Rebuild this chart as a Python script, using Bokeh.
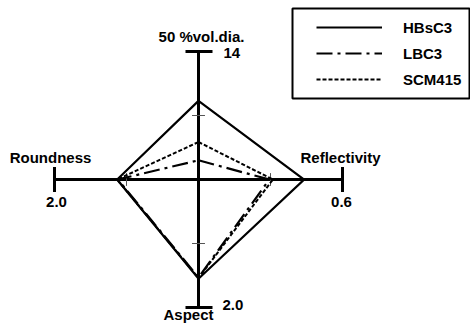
from bokeh.plotting import figure
from bokeh.models import Range1d
from bokeh.embed import file_html
from bokeh.resources import INLINE
from bokeh.core.properties import value

# ---- data ----
axis_names = ["50 %vol.dia.", "Reflectivity", "Aspect", "Roundness"]
axis_max = [14, 0.6, 2.0, 2.0]
axis_max_labels = ["14", "0.6", "2.0", "2.0"]
series_names = ["HBsC3", "LBC3", "SCM415"]
hbsc3 = [8.6, 0.44, 1.55, 1.13]
lbc3 = [2.1, 0.295, 1.53, 1.12]
scm415 = [4.1, 0.31, 1.54, 1.13]

# direction of each axis: top, right, bottom, left
dirs = [(0, 1), (1, 0), (0, -1), (-1, 0)]

W, H = 470, 325
CX, CY, RX, RY = 198, 179, 144, 128   # centre and radii in screen px

def ux(px):
    return (px - CX) / RX

def vy(py):
    return (CY - py) / RY

FONT = value("Liberation Sans")

p = figure(width=W, height=H, output_backend="svg", toolbar_location=None,
           x_range=Range1d(ux(0), ux(W)), y_range=Range1d(vy(H), vy(0)),
           min_border=0)
p.axis.visible = False
p.grid.visible = False
p.outline_line_color = None
p.background_fill_color = "white"

# radial axes
p.segment(x0=[0], y0=[-1], x1=[0], y1=[1], line_color="black", line_width=3)
p.segment(x0=[-1], y0=[0], x1=[1], y1=[0], line_color="black", line_width=3)

# end ticks
p.segment(x0=[ux(185), ux(185)], y0=[1, -1], x1=[ux(212), ux(212)], y1=[1, -1],
          line_color="black", line_width=3)
p.segment(x0=[-1, 1], y0=[-0.098, -0.098], x1=[-1, 1], y1=[0.098, 0.098],
          line_color="black", line_width=3)
# mid ticks
p.segment(x0=[-0.045, -0.045], y0=[0.5, -0.5], x1=[0.045, 0.045], y1=[0.5, -0.5],
          line_color="#555555", line_width=1)
p.segment(x0=[-0.5, 0.5], y0=[-0.05, -0.05], x1=[-0.5, 0.5], y1=[0.05, 0.05],
          line_color="#555555", line_width=1)

def poly(vals):
    xs, ys = [], []
    for v, m, (dx, dy) in zip(vals, axis_max, dirs):
        r = v / m
        xs.append(dx * r)
        ys.append(dy * r)
    return xs + xs[:1], ys + ys[:1]

# legend frame
p.quad(left=[ux(292)], right=[ux(469)], top=[vy(8)], bottom=[vy(98)],
       fill_color="white", line_color="black", line_width=2)

styles = [("solid", 2.2), ("16 5 3 5", 2.2), ("4 2", 2.0)]
for name, vals, (dash, lw) in zip(series_names, [hbsc3, lbc3, scm415], styles):
    xs, ys = poly(vals)
    p.line(xs, ys, line_color="black", line_width=lw, line_dash=dash,
           line_join="miter", legend_label=name)

# labels
p.text(x=[ux(201), ux(340), ux(188), ux(50)], y=[vy(36), vy(157), vy(314), vy(157)],
       text=axis_names, text_font=FONT, text_font_style="bold",
       text_font_size="15px", text_align="center", text_baseline="middle",
       text_color="black")
p.text(x=[ux(223), ux(341), ux(222), ux(56)], y=[vy(52), vy(201.5), vy(304), vy(201.5)],
       text=axis_max_labels, text_font=FONT, text_font_style="bold",
       text_font_size="15px", text_align=["left", "center", "left", "center"],
       text_baseline="middle", text_color="black")

lg = p.legend[0]
lg.location = (316, H - 89)
lg.margin = 0
lg.padding = 0
lg.spacing = 6
lg.glyph_width = 66
lg.glyph_height = 20
lg.label_height = 20
lg.label_width = 60
lg.label_standoff = 21
lg.label_text_font = "Liberation Sans"
lg.label_text_font_style = "bold"
lg.label_text_font_size = "15px"
lg.label_text_color = "black"
lg.label_text_baseline = "middle"
lg.border_line_color = None
lg.background_fill_alpha = 0

open("out.html", "w").write(file_html(p, INLINE))
